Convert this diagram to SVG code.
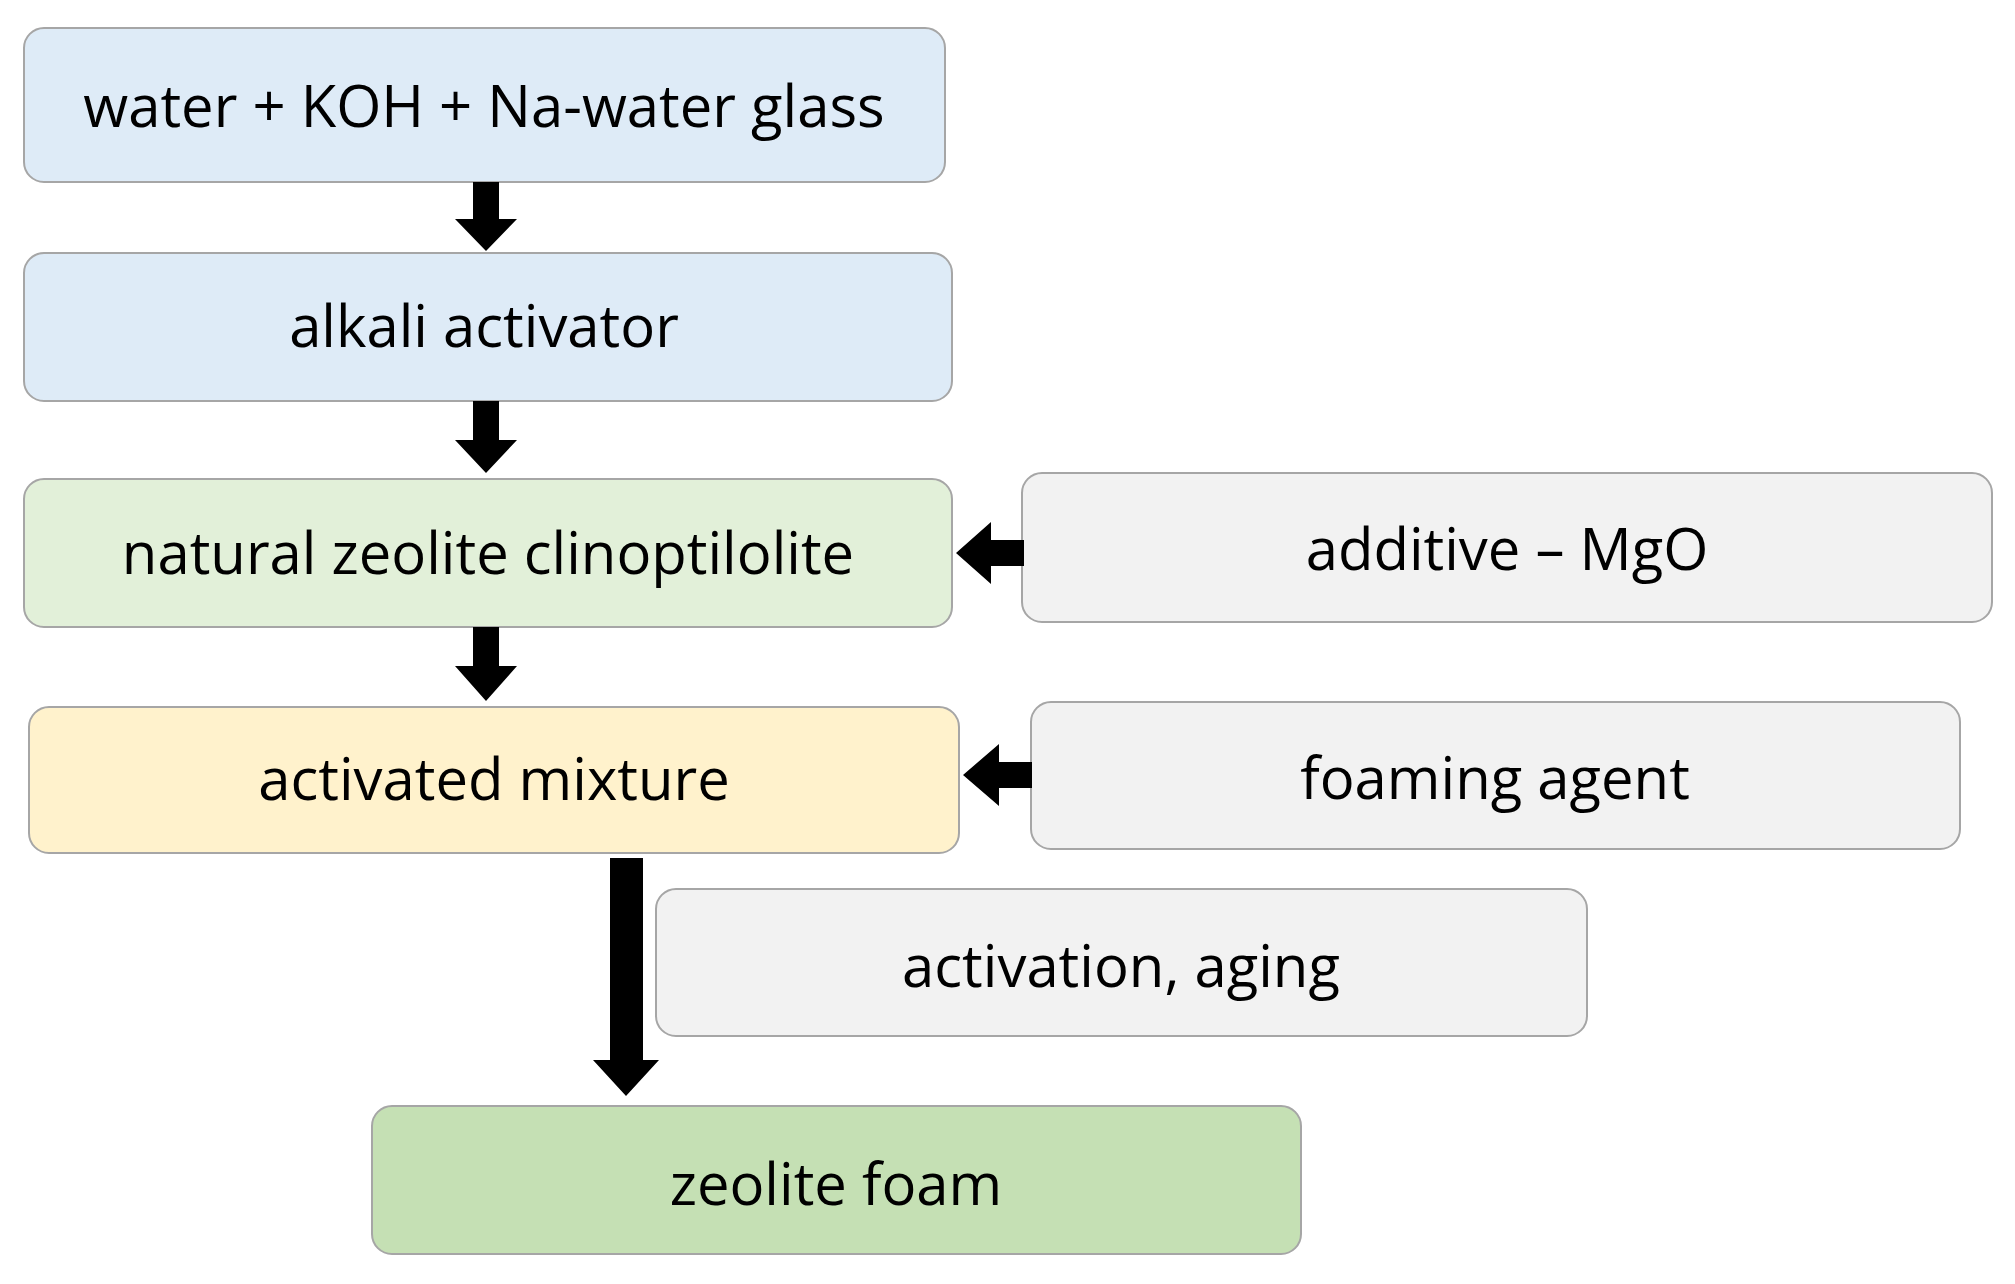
<svg xmlns="http://www.w3.org/2000/svg" width="2015" height="1284" viewBox="0 0 2015 1284">
<style>
.b{stroke:#a6a6a6;stroke-width:2}
.t{font-family:"Open Sans","Liberation Sans",sans-serif;font-size:58px;fill:#000;text-anchor:middle;dominant-baseline:central}
</style>
<rect width="2015" height="1284" fill="#fff"/>
<g id="n1"><rect class="b" x="24" y="28" width="921" height="154" rx="20" fill="#deebf7"/><text class="t" x="484" y="104">water + KOH + Na-water glass</text></g>
<g id="n2"><rect class="b" x="24" y="253" width="928" height="148" rx="20" fill="#deebf7"/><text class="t" x="484" y="324">alkali activator</text></g>
<g id="n3"><rect class="b" x="24" y="479" width="928" height="148" rx="20" fill="#e2f0d9"/><text class="t" x="488" y="551">natural zeolite clinoptilolite</text></g>
<g id="n4"><rect class="b" x="1022" y="473" width="970" height="149" rx="20" fill="#f2f2f2"/><text class="t" x="1507" y="547">additive – MgO</text></g>
<g id="n5"><rect class="b" x="29" y="707" width="930" height="146" rx="20" fill="#fff2cc"/><text class="t" x="494" y="777">activated mixture</text></g>
<g id="n6"><rect class="b" x="1031" y="702" width="929" height="147" rx="20" fill="#f2f2f2"/><text class="t" x="1495" y="776">foaming agent</text></g>
<g id="n7"><rect class="b" x="656" y="889" width="931" height="147" rx="20" fill="#f2f2f2"/><text class="t" x="1121" y="964">activation, aging</text></g>
<g id="n8"><rect class="b" x="372" y="1106" width="929" height="148" rx="20" fill="#c5e0b4"/><text class="t" x="836" y="1182">zeolite foam</text></g>
<g id="connectors" fill="#000">
<polygon points="473,182 499,182 499,219 517,219 486,251 455,219 473,219"/>
<polygon points="473,401 499,401 499,440 517,440 486,473 455,440 473,440"/>
<polygon points="473,627 499,627 499,666 517,666 486,701 455,666 473,666"/>
<polygon points="1024,540 1024,566 991,566 991,584 956,553 991,522 991,540"/>
<polygon points="1032,762 1032,788 999,788 999,806 963,775 999,744 999,762"/>
<polygon points="610,858 643,858 643,1060 659,1060 626,1096 593,1060 610,1060"/>
</g>
</svg>
